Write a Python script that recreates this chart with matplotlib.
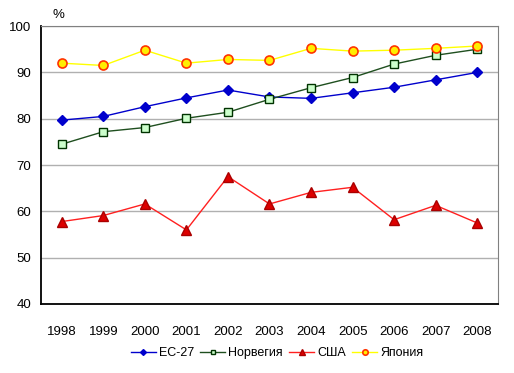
import matplotlib.pyplot as plt

plt.rcParams['font.family'] = ['Liberation Sans', 'DejaVu Sans']

years = ['1998', '1999', '2000', '2001', '2002', '2003', '2004', '2005', '2006', '2007', '2008']
eu27 = [79.7, 80.5, 82.6, 84.5, 86.2, 84.7, 84.4, 85.6, 86.8, 88.4, 90.0]
norway = [74.5, 77.2, 78.1, 80.1, 81.4, 84.2, 86.7, 88.9, 91.8, 93.7, 95.0]
usa = [57.8, 59.1, 61.6, 56.0, 67.5, 61.6, 64.1, 65.2, 58.2, 61.3, 57.5]
japan = [92.0, 91.5, 94.8, 92.0, 92.8, 92.6, 95.2, 94.6, 94.8, 95.2, 95.7]

fig = plt.figure(figsize=(5.14, 3.73), dpi=100)
ax = fig.add_axes([0.0798, 0.185, 0.889, 0.745])

x = range(len(years))
l1, = ax.plot(x, eu27, color='#0000cc', lw=1, marker='D', ms=5, mfc='#0000cc', mec='#0000cc', zorder=3)
l2, = ax.plot(x, norway, color='#1f4f1f', lw=1, marker='s', ms=6, mfc='#ccffcc', mec='#003300', zorder=3)
l3, = ax.plot(x, usa, color='#ff2020', lw=1, marker='^', ms=7, mfc='#dd0000', mec='#aa0000', zorder=3)
l4, = ax.plot(x, japan, color='#ffff00', lw=1, marker='o', ms=6.5, mfc='#ffee00', mec='#ff3300', mew=1.2, zorder=4)

ax.set_xlim(-0.5, len(years) - 0.5)
ax.set_ylim(40, 100)
ax.set_yticks(range(40, 101, 10))
ax.set_xticks(list(x))
ax.set_xticklabels(years)
ax.tick_params(length=0, labelsize=9.5, pad=7)
ax.tick_params(axis='x', pad=16)
ax.yaxis.grid(True, color='#b0b0b0', lw=1)
ax.set_axisbelow(True)
for s in ['top', 'right']:
    ax.spines[s].set_color('#808080')
for s in ['left', 'bottom']:
    ax.spines[s].set_color('black')
    ax.spines[s].set_linewidth(1.3)

fig.text(0.113, 0.96, '%', fontsize=9.5, ha='center', va='center')

leg = fig.legend([l1, l2, l3, l4], ['ЕС-27', 'Норвегия', 'США', 'Япония'],
                 loc='center', bbox_to_anchor=(0.539, 0.053), ncol=4, frameon=False,
                 fontsize=9, markerscale=0.6, handlelength=2.0, handletextpad=0.25,
                 columnspacing=0.5)

fig.savefig('out.png', dpi=100)
